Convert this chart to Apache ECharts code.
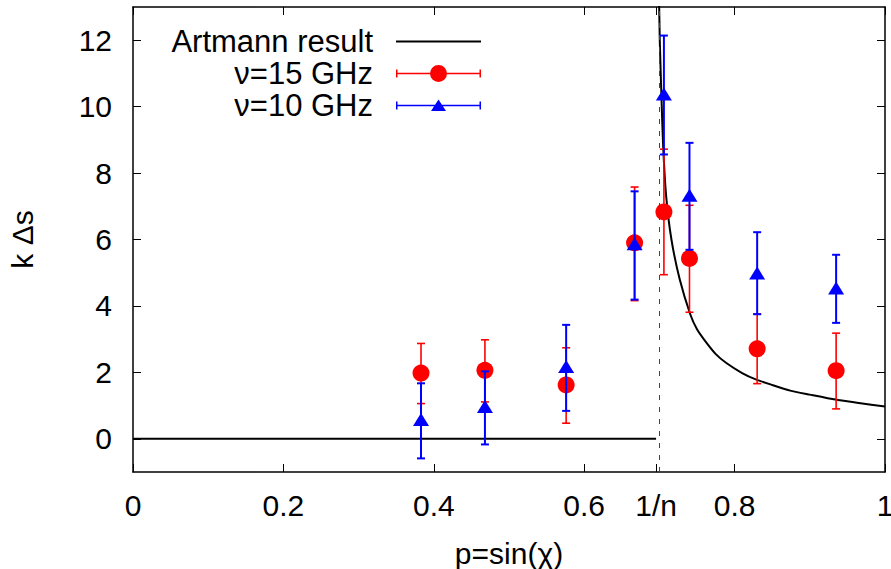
<!DOCTYPE html>
<html>
<head>
<meta charset="utf-8">
<title>k Δs vs p=sin(χ)</title>
<script src="https://cdn.jsdelivr.net/npm/echarts@6/dist/echarts.min.js"></script>
<style>
  html, body { margin: 0; padding: 0; background: #fff; }
  #chart { width: 891px; height: 569px; }
</style>
</head>
<body>
<div id="chart"></div>
<script>
// p = 1/n, where the curve diverges
const invN = 0.6956

const xTickValues = [0, 0.2, 0.4, 0.6, invN, 0.8, 1]
const yTickValues = [0, 2, 4, 6, 8, 10, 12]

// measured points (same p for both frequencies)
const pValues = [0.383, 0.468, 0.576, 0.667, 0.706, 0.740, 0.830, 0.935]
const ghz15 = [1.98, 2.06, 1.62, 5.90, 6.83, 5.43, 2.71, 2.05]
const ghz15Low = [1.06, 1.11, 0.47, 4.16, 4.94, 3.81, 1.66, 0.90]
const ghz15High = [2.87, 2.98, 2.74, 7.58, 8.72, 7.03, 3.76, 3.18]
const ghz10 = [0.58, 0.97, 2.18, 5.87, 10.38, 7.33, 4.99, 4.54]
const ghz10Low = [-0.59, -0.17, 0.84, 4.19, 8.56, 5.69, 3.75, 3.49]
const ghz10High = [1.67, 2.03, 3.43, 7.45, 12.14, 8.91, 6.22, 5.54]

// Artmann result
const artmannP = [0.699, 0.7005, 0.703, 0.705, 0.709, 0.716, 0.727, 0.741, 0.75, 0.763,
  0.775, 0.789, 0.81, 0.829, 0.85, 0.874, 0.90, 0.934, 0.965, 1.0]
const artmannY = [14.0, 12.0, 10.1, 8.8, 7.3, 6.0, 4.8, 3.75, 3.3, 2.88,
  2.55, 2.28, 1.98, 1.78, 1.62, 1.45, 1.33, 1.18, 1.08, 0.97]
const zeroP = [0, invN]
const zeroY = [0, 0]

const fontFamily = '"Liberation Sans", Arial, sans-serif'
const red = '#ff0000'
const blue = '#0000ff'

// legend icons drawn in an 85 x 17 box (tiny dots at the corners pin the box)
const pins = 'M0,0L0.01,0L0,0.01Z M85,17L84.99,17L85,16.99Z'
const barPath = 'M0,4.5H1.5V7.7H83.5V4.5H85V12.5H83.5V9.3H1.5V12.5H0Z'
const lineIcon = 'path://' + pins + 'M0,7.5H85V9.5H0Z'
const circleIcon = 'path://' + barPath + 'M34,8.5A8.5,8.5 0 1 1 51,8.5A8.5,8.5 0 1 1 34,8.5Z'
const triangleIcon = 'path://' + pins + barPath + 'M42.5,2.5L50,14L35,14Z'

function zip(xs, ys) {
  return xs.map((x, i) => [x, ys[i]])
}

function errorBarItem(color, width) {
  return function (params, api) {
    const x = api.value(0)
    const lo = api.coord([x, api.value(1)])
    const hi = api.coord([x, api.value(2)])
    const half = 4
    const style = { stroke: color, lineWidth: width }
    return {
      type: 'group',
      children: [
        { type: 'line', shape: { x1: lo[0], y1: lo[1], x2: hi[0], y2: hi[1] }, style: style },
        { type: 'line', shape: { x1: lo[0] - half, y1: lo[1], x2: lo[0] + half, y2: lo[1] }, style: style },
        { type: 'line', shape: { x1: hi[0] - half, y1: hi[1], x2: hi[0] + half, y2: hi[1] }, style: style }
      ]
    }
  }
}

function xLabel(v) {
  if (Math.abs(v - invN) < 1e-9) return '1/n'
  if (v === 1) return '{edge|1}' // sits right at the picture's edge
  return String(v)
}

const labelStyle = { fontFamily: fontFamily, fontSize: 30, color: '#000' }
const axisLineStyle = { show: true, onZero: false, lineStyle: { color: '#000', width: 1.5 } }

const chart = echarts.init(document.getElementById('chart'), null, { renderer: 'svg' })
chart.setOption({
  animation: false,
  backgroundColor: '#fff',
  grid: { left: 133, right: 6, top: 7, bottom: 97, outerBoundsMode: 'none' },
  legend: {
    orient: 'vertical',
    align: 'right',
    right: 410,
    top: 26,
    padding: 0,
    itemGap: 1,
    itemWidth: 85,
    itemHeight: 17,
    selectedMode: false,
    textStyle: Object.assign({}, labelStyle, { fontSize: 31, lineHeight: 30, padding: [0, 18, 0, 0] }),
    data: [
      { name: 'Artmann result', icon: lineIcon, itemStyle: { color: '#000' } },
      { name: 'ν=15 GHz', icon: circleIcon },
      { name: 'ν=10 GHz', icon: triangleIcon }
    ]
  },
  xAxis: [{
    type: 'value',
    min: 0,
    max: 1,
    position: 'bottom',
    axisLine: axisLineStyle,
    axisTick: { show: true, inside: true, length: 8, customValues: xTickValues, lineStyle: { color: '#000' } },
    axisLabel: Object.assign({
      customValues: xTickValues,
      margin: 18,
      formatter: xLabel,
      rich: { edge: Object.assign({ width: 10, align: 'center' }, labelStyle) }
    }, labelStyle),
    splitLine: { show: false },
    name: 'p=sin(χ)',
    nameLocation: 'middle',
    nameGap: 66,
    nameTextStyle: labelStyle
  }, {
    type: 'value',
    min: 0,
    max: 1,
    position: 'top',
    axisLine: axisLineStyle,
    axisTick: { show: true, inside: true, length: 8, customValues: xTickValues, lineStyle: { color: '#000' } },
    axisLabel: { show: false },
    splitLine: { show: false }
  }],
  yAxis: [{
    type: 'value',
    min: -1,
    max: 13,
    position: 'left',
    axisLine: axisLineStyle,
    axisTick: { show: true, inside: true, length: 8, customValues: yTickValues, lineStyle: { color: '#000' } },
    axisLabel: Object.assign({ customValues: yTickValues, margin: 21 }, labelStyle),
    splitLine: { show: false },
    name: 'k Δs',
    nameLocation: 'middle',
    nameRotate: 90,
    nameGap: 96,
    nameTextStyle: labelStyle
  }, {
    type: 'value',
    min: -1,
    max: 13,
    position: 'right',
    axisLine: axisLineStyle,
    axisTick: { show: true, inside: true, length: 8, customValues: yTickValues, lineStyle: { color: '#000' } },
    axisLabel: { show: false },
    splitLine: { show: false }
  }],
  series: [
    {
      name: 'Artmann result',
      type: 'line',
      z: 2,
      data: zip(zeroP, zeroY),
      showSymbol: false,
      symbol: 'none',
      lineStyle: { color: '#000', width: 2 },
      itemStyle: { color: '#000' },
      markLine: {
        silent: true,
        symbol: 'none',
        label: { show: false },
        lineStyle: { color: '#444', width: 1, type: [5, 7] },
        data: [{ xAxis: invN }]
      }
    },
    {
      name: 'Artmann result',
      type: 'line',
      z: 2,
      data: zip(artmannP, artmannY),
      smooth: 0.2,
      showSymbol: false,
      symbol: 'none',
      lineStyle: { color: '#000', width: 2 },
      itemStyle: { color: '#000' }
    },
    {
      name: 'err15',
      type: 'custom',
      z: 3,
      renderItem: errorBarItem(red, 1.6),
      encode: { x: 0, y: [1, 2] },
      data: pValues.map((p, i) => [p, ghz15Low[i], ghz15High[i]])
    },
    {
      name: 'ν=15 GHz',
      type: 'scatter',
      z: 4,
      symbol: 'circle',
      symbolSize: 17,
      itemStyle: { color: red, opacity: 1 },
      data: zip(pValues, ghz15)
    },
    {
      name: 'err10',
      type: 'custom',
      z: 5,
      renderItem: errorBarItem(blue, 2),
      encode: { x: 0, y: [1, 2] },
      data: pValues.map((p, i) => [p, ghz10Low[i], ghz10High[i]])
    },
    {
      name: 'ν=10 GHz',
      type: 'scatter',
      z: 6,
      symbol: 'triangle',
      symbolSize: [16, 13],
      itemStyle: { color: blue, opacity: 1 },
      data: zip(pValues, ghz10)
    }
  ]
})
</script>
</body>
</html>
